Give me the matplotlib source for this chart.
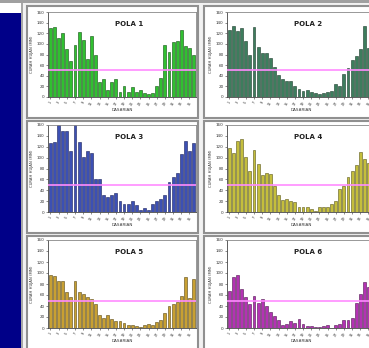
import matplotlib
matplotlib.use("Agg")
import matplotlib.pyplot as plt
from matplotlib.patches import Rectangle
import numpy as np

W, H = 369, 348

titles = ["POLA 1", "POLA 2", "POLA 3", "POLA 4", "POLA 5", "POLA 6"]
pola1 = [130, 131, 112, 120, 90, 68, 97, 123, 107, 72, 114, 80, 28, 34, 13, 28, 33, 10,
         20, 10, 18, 10, 14, 8, 5, 7, 20, 35, 97, 84, 104, 106, 126, 96, 92, 80]
pola2 = [126, 134, 124, 130, 106, 80, 132, 94, 83, 83, 73, 57, 42, 33, 30, 31, 20, 15,
         12, 14, 9, 8, 5, 8, 10, 12, 24, 21, 44, 54, 70, 77, 91, 133, 93, 100]
pola3 = [126, 129, 160, 149, 149, 112, 160, 128, 102, 112, 108, 60, 61, 32, 28, 32, 35, 21,
         14, 14, 21, 12, 4, 8, 4, 15, 20, 23, 32, 56, 65, 72, 106, 131, 112, 127]
pola4 = [118, 108, 131, 135, 102, 75, 114, 88, 68, 71, 70, 47, 32, 22, 23, 20, 18, 10,
         9, 9, 5, 2, 9, 9, 9, 15, 21, 43, 48, 64, 75, 86, 110, 97, 90, 85]
pola5 = [96, 95, 86, 86, 65, 56, 86, 65, 62, 57, 53, 43, 24, 18, 23, 17, 12, 12,
         10, 5, 5, 3, 2, 5, 7, 5, 11, 15, 28, 40, 44, 48, 58, 93, 55, 90]
pola6 = [67, 93, 97, 71, 56, 44, 58, 46, 52, 40, 30, 21, 15, 5, 8, 12, 9, 16,
         7, 3, 3, 1, 1, 4, 5, 0, 5, 7, 14, 14, 18, 45, 61, 84, 75, 60]
series = [pola1, pola2, pola3, pola4, pola5, pola6]
colors = ["#30c030", "#3d7d5d", "#3c50b4", "#c4be3c", "#c8a032", "#b432b4"]
edges = ["#105010", "#1a3a2a", "#18205a", "#5a5618", "#5a4814", "#501450"]
dasarian = [str(i) for i in range(1, 37)]
yticks = [0, 20, 40, 60, 80, 100, 120, 140, 160]
threshold = 50

fig = plt.figure(figsize=(W / 100, H / 100), dpi=100)
fig.patch.set_facecolor("#f2f2f2")


def frect(x0, y0, x1, y1, **kw):
    fig.patches.append(Rectangle((x0 / W, 1 - y1 / H), (x1 - x0) / W, (y1 - y0) / H,
                                 transform=fig.transFigure, figure=fig, zorder=-10, **kw))


def box(x0, y0, x1, y1):
    return [x0 / W, 1 - y1 / H, (x1 - x0) / W, (y1 - y0) / H]


# decorations
frect(0, 0, W, 3, facecolor="#a0a0a0", edgecolor="none")
frect(0, 3, 21, 13, facecolor="white", edgecolor="none")
frect(0, 13, 21, H, facecolor="#000088", edgecolor="none")
frect(21, 3, 23, H, facecolor="#a8a8a8", edgecolor="none")

panels = [(27, 6, 198, 118), (204, 6, 380, 118),
          (27, 121, 198, 233), (204, 121, 380, 233),
          (27, 236, 198, 352), (204, 236, 380, 352)]
axes_px = [(48, 12, 196, 97), (227, 12, 375, 97),
           (48, 125, 196, 212), (227, 125, 375, 212),
           (48, 240, 196, 328), (227, 240, 375, 328)]

for (px0, py0, px1, py1) in panels:
    frect(px0, py0, px1, py1, facecolor="white", edgecolor="#909090", linewidth=1.5)

x = np.arange(1, 37)
for i in range(6):
    ax = fig.add_axes(box(*axes_px[i]))
    ax.bar(x, series[i], width=0.7, color=colors[i], edgecolor=edges[i], linewidth=0.4)
    ax.axhline(threshold, color="#ff8cff", linewidth=1.2, zorder=3)
    ax.set_xlim(0.4, 36.6)
    ax.set_ylim(0, 160)
    ax.set_yticks(yticks)
    ax.set_yticklabels([str(v) for v in yticks], fontsize=3)
    ax.set_xticks(x[::2])
    ax.set_xticklabels(dasarian[::2], fontsize=2.5, rotation=60)
    ax.tick_params(length=1.5, width=0.4, pad=1, colors="#333333")
    for s in ax.spines.values():
        s.set_color("#888888")
        s.set_linewidth(0.6)
    ax.spines["left"].set_color("#444444")
    ax.spines["bottom"].set_color("#444444")
    ax.text(0.55, 0.86, titles[i], transform=ax.transAxes, fontsize=5,
            fontweight="bold", ha="center", va="center", color="#222222")
    ax.set_xlabel("DASARIAN", fontsize=3, labelpad=1.5, color="#333333")
    ax.set_ylabel("CURAH HUJAN (MM)", fontsize=2.7, labelpad=2, color="#333333")

fig.savefig("out.png", dpi=100, facecolor=fig.get_facecolor())
